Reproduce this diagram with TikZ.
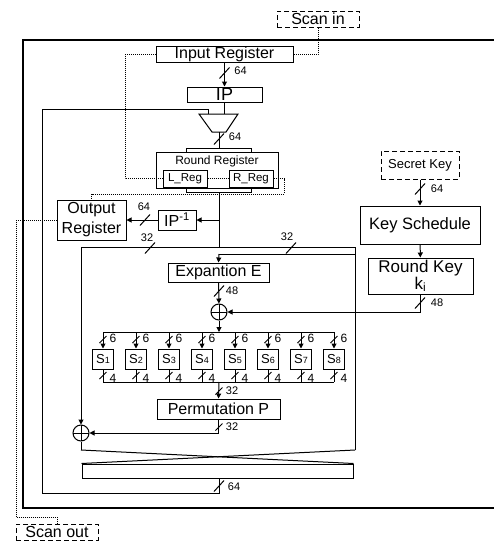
\documentclass[tikz,border=0pt]{standalone}
\usepackage{fontspec}
\setmainfont{Liberation Sans}
\usetikzlibrary{arrows.meta}

\begin{document}
\begin{tikzpicture}[
        x = 1pt,
        y = -1pt,
        line width = 1pt,
        >= {Triangle[length = 5pt, width = 5pt]}
    ]

        \tikzset{%
            block/.style = {%
                rectangle,
                draw,
                inner sep = 0pt,
                font      = \fontsize{16}{20}\selectfont
            },
            scanbox/.style = {%
                block,
                dash pattern = on 5pt off 3pt
            },
            scanpath/.style = {%
                dash pattern = on 1pt off 1pt
            },
            bar/.style = {%
                rectangle,
                draw,
                inner sep      = 0pt,
                minimum width  = 65pt,
                minimum height = 4pt
            },
            sbox/.style = {%
                block,
                minimum width  = 21pt,
                minimum height = 20pt,
                font           = \fontsize{13}{13}\selectfont
            },
            xorgate/.style = {%
                circle,
                draw,
                inner sep    = 0pt,
                minimum size = 16pt,
                path picture = {%
                    \draw (path picture bounding box.north) -- (path picture bounding box.south)
                        (path picture bounding box.west) -- (path picture bounding box.east);
                }
            },
            bitlabel/.style = {%
                inner sep = 0pt,
                font      = \fontsize{11}{11}\selectfont
            }
        }

        \newcommand{\bitmark}[4]{%
            \draw (#2) ++(-5,5.5) -- ++(10,-11);
            \path (#2) ++(#4) node[bitlabel] (#1) {#3};
        }
        \newcommand{\smallmark}[1]{%
            \draw (#1) ++(-3.5,3.5) -- ++(7,-7);
        }

    \useasboundingbox (0,0) rectangle (494,541);

    % chip boundary
    \draw[line width = 1.3pt] (494,40) -- (23,40) -- (23,508) -- (494,508);

    % scan chain ends
    \node[scanbox, minimum width = 82, minimum height = 16] (scanin) at (318,19) {Scan in};
    \node[scanbox, minimum width = 82, minimum height = 16] (scanout) at (57,532) {Scan out};

    % data path
    \node[block, minimum width = 137, minimum height = 16] (inreg) at (224.5,54) {Input Register};
    \node[block, minimum width = 75, minimum height = 15, font = \fontsize{18}{18}\selectfont] (ip) at (224.5,94.5) {IP};

    \draw (199,114) -- (238,114) -- (226,132) -- (212,132) -- cycle; % multiplexer
    \coordinate (muxin) at (224.5,114);
    \coordinate (muxfb) at (208,114);
    \coordinate (muxout) at (219,132);

    \node[bar] (topbar) at (218.5,150) {};
    \node[block, minimum width = 122, minimum height = 36] (rreg) at (217,170) {};
    \node[inner sep = 0pt, font = \fontsize{12}{12}\selectfont] (rregtxt) at (217,161) {Round Register};
    \node[bar] (botbar) at (218.5,190) {};
    \node[block, minimum width = 44, minimum height = 17, font = \fontsize{11.5}{12}\selectfont] (lreg) at (185,178.5) {L\_Reg};
    \node[block, minimum width = 44, minimum height = 17, font = \fontsize{11.5}{12}\selectfont] (rreg2) at (251,178.5) {R\_Reg};

    \node[block, minimum width = 69, minimum height = 40, align = center] (outreg) at (91.5,220) {Output\\Register};
    \node[block, minimum width = 38, minimum height = 20] (ipinv) at (177,220) {IP\textsuperscript{-1}};

    \node[block, minimum width = 101, minimum height = 19] (expe) at (218.5,272.5) {Expantion E};
    \node[xorgate] (xor1) at (219,312) {};

    \node[block, minimum width = 123, minimum height = 20] (permp) at (218.5,409) {Permutation P};
    \node[xorgate] (xor2) at (81,433) {};

    \node[block, minimum width = 271, minimum height = 14] (swap) at (217.5,471) {};

    % key path
    \node[scanbox, minimum width = 78, minimum height = 28, font = \fontsize{13}{13}\selectfont] (seckey) at (420,165) {Secret Key};
    \node[block, minimum width = 120, minimum height = 38, font = \fontsize{16.5}{18}\selectfont] (keysch) at (420,225) {Key Schedule};
    \node[block, minimum width = 105, minimum height = 36, align = center, font = \fontsize{17}{17}\selectfont] (rkey) at (420.5,276) {Round Key\\k\textsubscript{i}};

    % S-boxes
    \coordinate (sbus) at (219,332);
    \coordinate (pbus) at (219,382);
    \foreach \i in {1,...,8} {
        \node[sbox] (s\i) at ({70 + 33*\i},359) {S{\fontsize{9}{9}\selectfont\i}};
    }
    \draw (s1.north |- sbus) -- (s8.north |- sbus);
    \draw (s1.south |- pbus) -- (s8.south |- pbus);
    \foreach \i in {1,...,8} {
        \draw[->] (s\i.north |- sbus) -- (s\i.north);
        \draw (s\i.south) -- (s\i.south |- pbus);
        \path (s\i.north) ++(0,-9) coordinate (sin\i);
        \path (s\i.south) ++(0,6) coordinate (sout\i);
        \smallmark{sin\i}
        \smallmark{sout\i}
        \path (sin\i) ++(10,-1) node[bitlabel, font = \fontsize{12}{12}\selectfont] (six\i) {6};
        \path (sout\i) ++(10,3) node[bitlabel, font = \fontsize{12}{12}\selectfont] (four\i) {4};
    }

    % connections
    \coordinate (split) at (219,247);
    \coordinate (lsplit) at (81,247);
    \coordinate (rsplit) at (355,247);
    \coordinate (etap) at (219,254);
    \coordinate (etapr) at (355,254);
    \coordinate (ipinvtap) at (219,220);
    \coordinate (swapl) at (81,450);
    \coordinate (swapr) at (355,450);
    \coordinate (swapout) at (219,478);
    \coordinate (fbl) at (42,493);

    \draw[->] (inreg) -- (ip);
    \draw (ip.south) -- (muxin);
    \draw (muxout) -- (muxout |- topbar.north);
    \draw (split |- botbar.south) -- (split);
    \draw[->] (ipinvtap) -- (ipinv.east);
    \draw[->] (ipinv.west) -- (outreg.east);
    \draw (lsplit) -- (rsplit);
    \draw (etap) -- (etapr);
    \draw (rsplit) -- (swapr);
    \draw[->] (etap) -- (expe.north);
    \draw[->] (lsplit) -- (xor2.north);
    \draw[->] (expe) -- (xor1);
    \draw[->] (xor1.south) -- (sbus);
    \draw[->] (pbus) -- (permp.north);
    \draw[->] (permp.south) |- (xor2.east);
    \draw (xor2.south) -- (swapl);
    \draw (swapl) -- (swap.north east);
    \draw (swapr) -- (swap.north west);
    \draw (swapout) |- (fbl) |- (muxfb |- 0,109) -- (muxfb);

    \draw[->] (seckey) -- (keysch);
    \draw[->] (keysch) -- (rkey);
    \draw[->] (rkey.south) |- (xor1.east);

    % bus widths
    \bitmark{w1}{224.5,73}{64}{16,-2}
    \bitmark{w2}{219,139}{64}{16,-2}
    \bitmark{w3}{145,220}{64}{-1,-13}
    \bitmark{w4}{150,248}{32}{-3,-10}
    \bitmark{w5}{291,248}{32}{-4,-11}
    \bitmark{w6}{219,291}{48}{13,0}
    \bitmark{w7}{420,189}{64}{17,0}
    \bitmark{w8}{420,303}{48}{17,0}
    \bitmark{w9}{219,486}{64}{15,1}
    \coordinate (pin) at (219,391);
    \coordinate (pout) at (219,427);
    \smallmark{pin}
    \smallmark{pout}
    \path (pin) ++(13,0) node[bitlabel] (w10) {32};
    \path (pout) ++(13,0) node[bitlabel] (w11) {32};

    % scan chain
    \coordinate (scanl) at (125,178.5);
    \draw[scanpath] (scanin.south) |- (inreg.east);
    \draw[scanpath] (inreg.west) -| (scanl) -- (lreg.west);
    \draw[scanpath] (lreg.east) -- (rreg2.west);
    \draw[scanpath] (rreg2.east) -| (284,194) -| (outreg.north);
    \draw[scanpath] (outreg.west) -| (16,517) -| (scanout.north);

\end{tikzpicture}
\end{document}
